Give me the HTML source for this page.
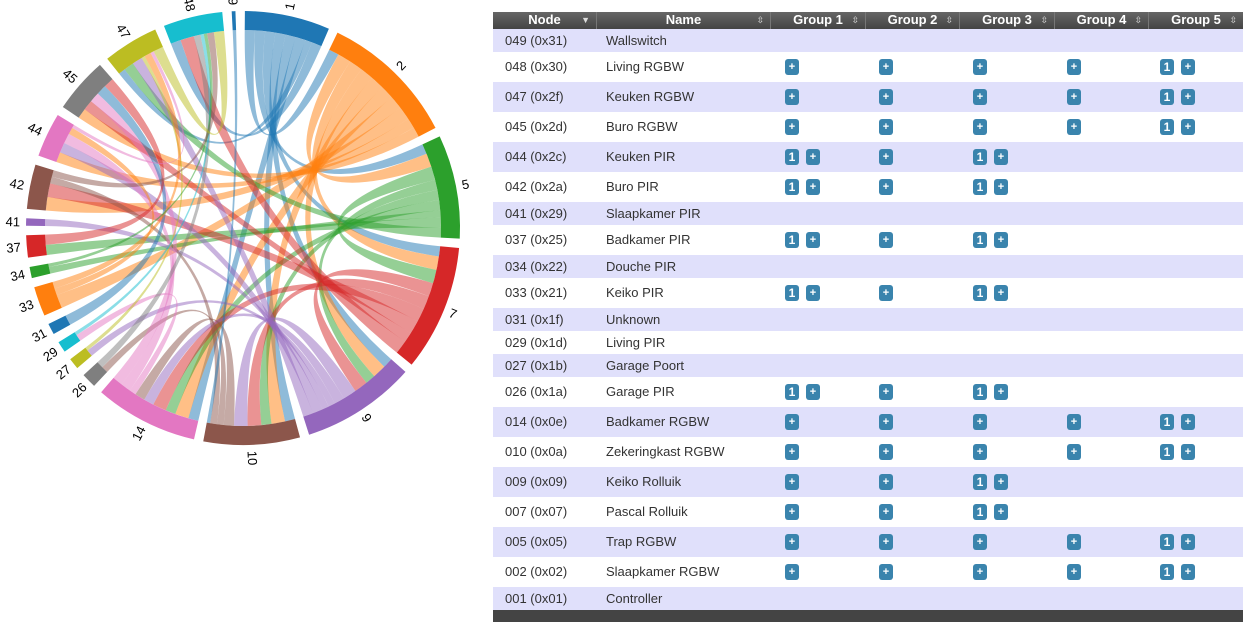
<!DOCTYPE html>
<html><head><meta charset="utf-8">
<style>
body{margin:0;width:1245px;height:622px;background:#fff;overflow:hidden;font-family:"Liberation Sans",Arial,sans-serif;position:relative}
#chord{position:absolute;left:0;top:0}
#tbl{position:absolute;left:493px;top:12px;width:750px;font-size:13px;color:#333}
.hdr{height:17px;background:linear-gradient(#666,#444);color:#fff;font-weight:bold;position:relative}
.hc{position:absolute;top:0;height:17px;line-height:16px;text-align:center;border-left:1px solid #777;box-sizing:border-box}
.si{position:absolute;right:6px;top:0;font-size:9px;color:#ddd;font-weight:normal}
.row{position:relative;width:750px}
.row.l{background:#e0e0fb}
.row span.c{position:absolute;top:0;white-space:nowrap}
.btn{position:absolute;width:14px;height:16px;background:#3a84ad;border-radius:3px;color:#fff;font-weight:bold;font-size:11px;line-height:16px;text-align:center}
.btn.one{font-size:12px}
#foot{position:absolute;left:493px;top:610px;width:750px;height:12px;background:#444}
</style></head><body>
<svg id="chord" width="490" height="470"></svg>
<div id="tbl">
 <div class="hdr">
  <div class="hc" style="left:0;width:103px;border-left:none">Node<span class="si">▼</span></div>
  <div class="hc" style="left:103px;width:174px">Name<span class="si">⇳</span></div>
  <div class="hc" style="left:277px;width:95px">Group 1<span class="si">⇳</span></div>
  <div class="hc" style="left:372px;width:94px">Group 2<span class="si">⇳</span></div>
  <div class="hc" style="left:466px;width:95px">Group 3<span class="si">⇳</span></div>
  <div class="hc" style="left:561px;width:94px">Group 4<span class="si">⇳</span></div>
  <div class="hc" style="left:655px;width:95px">Group 5<span class="si">⇳</span></div>
 </div>
 <div id="rows"></div>
</div>
<div id="foot"></div>
<script>
// ---- table data ----
const nodeIds=["049 (0x31)","048 (0x30)","047 (0x2f)","045 (0x2d)","044 (0x2c)","042 (0x2a)","041 (0x29)","037 (0x25)","034 (0x22)","033 (0x21)","031 (0x1f)","029 (0x1d)","027 (0x1b)","026 (0x1a)","014 (0x0e)","010 (0x0a)","009 (0x09)","007 (0x07)","005 (0x05)","002 (0x02)","001 (0x01)"];
const nodeNames=["Wallswitch","Living RGBW","Keuken RGBW","Buro RGBW","Keuken PIR","Buro PIR","Slaapkamer PIR","Badkamer PIR","Douche PIR","Keiko PIR","Unknown","Living PIR","Garage Poort","Garage PIR","Badkamer RGBW","Zekeringkast RGBW","Keiko Rolluik","Pascal Rolluik","Trap RGBW","Slaapkamer RGBW","Controller"];
const RGBW=["+","+","+","+","1+"], PIR=["1+","+","1+","",""], ROL=["+","+","1+","",""], NONE=[];
const nodeGroups=[NONE,RGBW,RGBW,RGBW,PIR,PIR,NONE,PIR,NONE,PIR,NONE,NONE,NONE,PIR,RGBW,RGBW,ROL,ROL,RGBW,RGBW,NONE];
const groupX=[292,386,480,574,667];
const rowsEl=document.getElementById('rows');
nodeIds.forEach((id,i)=>{
  const g=nodeGroups[i];const h=g.length?30:23;
  const r=document.createElement('div');
  
  
  r.className='row'+(i%2==0?' l':'');r.style.height=h+'px';
  const a=document.createElement('span');a.className='c';a.style.left='12px';a.style.lineHeight=h+'px';a.textContent=id;
  
  
  const b=document.createElement('span');b.className='c';b.style.left='113px';b.style.lineHeight=h+'px';b.textContent=nodeNames[i];
  
  
  r.appendChild(a);r.appendChild(b);
  g.forEach((v,k)=>{
    if(!v)return;
    let x=groupX[k];
    if(v==="1+"){
      const o=document.createElement('div');o.className='btn one';o.textContent='1';o.style.left=x+'px';o.style.top='7px';
      
      
      r.appendChild(o);x+=21;
    }
    const p=document.createElement('div');p.className='btn';p.textContent='+';p.style.left=x+'px';p.style.top='7px';
    
    
    r.appendChild(p);
  });
  rowsEl.appendChild(r);
});

// ---- chord data ----
const chordNodes=[1,2,5,7,9,10,14,26,27,29,31,33,34,37,41,42,44,45,47,48,49];
const linkSource=[1,1,1,1,1,1,1,1, 2,2,2,2,2,2,2,2,2, 5,5,5,5,5,5,5,5, 7,7,7,7,7,7, 9,9,9,9,9,9, 10,10,10, 14,14,14, 26,27,29,31,33,33,34,37,42,44,47,49];
const linkTarget=[2,5,7,9,10,14,48,47, 5,7,9,10,14,42,44,45,33, 7,9,10,14,37,47,34,1, 9,10,14,42,45,48, 10,14,44,47,41,27, 14,42,26, 44,45,29, 48,47,48,45,47,44,48,45,48,47,48,10];
const linkValue=[3,3,3,3,3,3,3,2, 4,4,4,4,4,4,3,3,4, 4,3,3,3,3,3,2,0, 4,4,4,4,3,4, 4,3,3,3,2,2, 3,2,2, 3,3,2, 2,1,1,3,2,2,1,3,2,1,3,1];
const colors=["#1f77b4","#ff7f0e","#2ca02c","#d62728","#9467bd","#8c564b","#e377c2","#7f7f7f","#bcbd22","#17becf"];
const cx=243,cy=228,R0=198,R1=217;
const NS='http://www.w3.org/2000/svg';
const svg=document.getElementById('chord');
const n=chordNodes.length;
const idx={};chordNodes.forEach((v,i)=>idx[v]=i);
const tot=new Array(n).fill(0);
linkValue.forEach((v,k)=>{tot[idx[linkSource[k]]]+=v;tot[idx[linkTarget[k]]]+=v;});
const sum=tot.reduce((a,b)=>a+b,0);
const padDeg=2.5;
const unit=(360-padDeg*n)/sum;
const gStart=[],gEnd=[];let ang=0.5;
for(let i=0;i<n;i++){gStart[i]=ang;gEnd[i]=ang+tot[i]*unit;ang=gEnd[i]+padDeg;}
// subarcs
const cursor=gStart.slice();
const ends=[];
for(let i=0;i<n;i++){
  // links touching i, ordered by other index
  const list=[];
  linkValue.forEach((v,k)=>{const s=idx[linkSource[k]],t=idx[linkTarget[k]];
    if(s===i)list.push([k,t,'s']);else if(t===i)list.push([k,s,'t']);});
  list.sort((a,b)=>a[1]-b[1]);
  list.forEach(([k,o,w])=>{const a0=cursor[i];cursor[i]+=linkValue[k]*unit;ends[k]=ends[k]||{};ends[k][w]=[a0,cursor[i]];});
}
function pt(a,r){const t=a*Math.PI/180;return [cx+r*Math.sin(t),cy-r*Math.cos(t)];}
const gL=document.createElementNS(NS,'g');svg.appendChild(gL);


linkValue.forEach((v,k)=>{
  if(v<=0)return;
  const s=ends[k].s,t=ends[k].t;
  const p0=pt(s[0],R0),p1=pt(s[1],R0),q0=pt(t[0],R0),q1=pt(t[1],R0);
  const d=`M${p0}A${R0},${R0} 0 0 1 ${p1}Q${cx},${cy} ${q0}A${R0},${R0} 0 0 1 ${q1}Q${cx},${cy} ${p0}Z`;
  const p=document.createElementNS(NS,'path');p.setAttribute('d',d);
  p.setAttribute('fill',colors[idx[linkSource[k]]%10]);p.setAttribute('fill-opacity','0.5');
  
  
  gL.appendChild(p);
});
for(let i=0;i<n;i++){
  const a0=gStart[i],a1=gEnd[i];
  const o0=pt(a0,R1),o1=pt(a1,R1),i1=pt(a1,R0),i0=pt(a0,R0);
  const lg=(a1-a0)>180?1:0;
  const p=document.createElementNS(NS,'path');
  p.setAttribute('d',`M${o0}A${R1},${R1} 0 ${lg} 1 ${o1}L${i1}A${R0},${R0} 0 ${lg} 0 ${i0}Z`);
  p.setAttribute('fill',colors[i%10]);
  
  
  svg.appendChild(p);
  const m=(a0+a1)/2;
  const t=document.createElementNS(NS,'text');
  t.setAttribute('transform',`translate(${cx},${cy}) rotate(${m-90}) translate(${R1+6},0)`+(m>180?' rotate(180)':''));
  t.setAttribute('text-anchor',m>180?'end':'start');t.setAttribute('dy','0.35em');
  t.setAttribute('font-size','13');t.setAttribute('font-family','Liberation Sans, sans-serif');
  t.textContent=chordNodes[i];
  
  
  svg.appendChild(t);
}
</script>
</body></html>
